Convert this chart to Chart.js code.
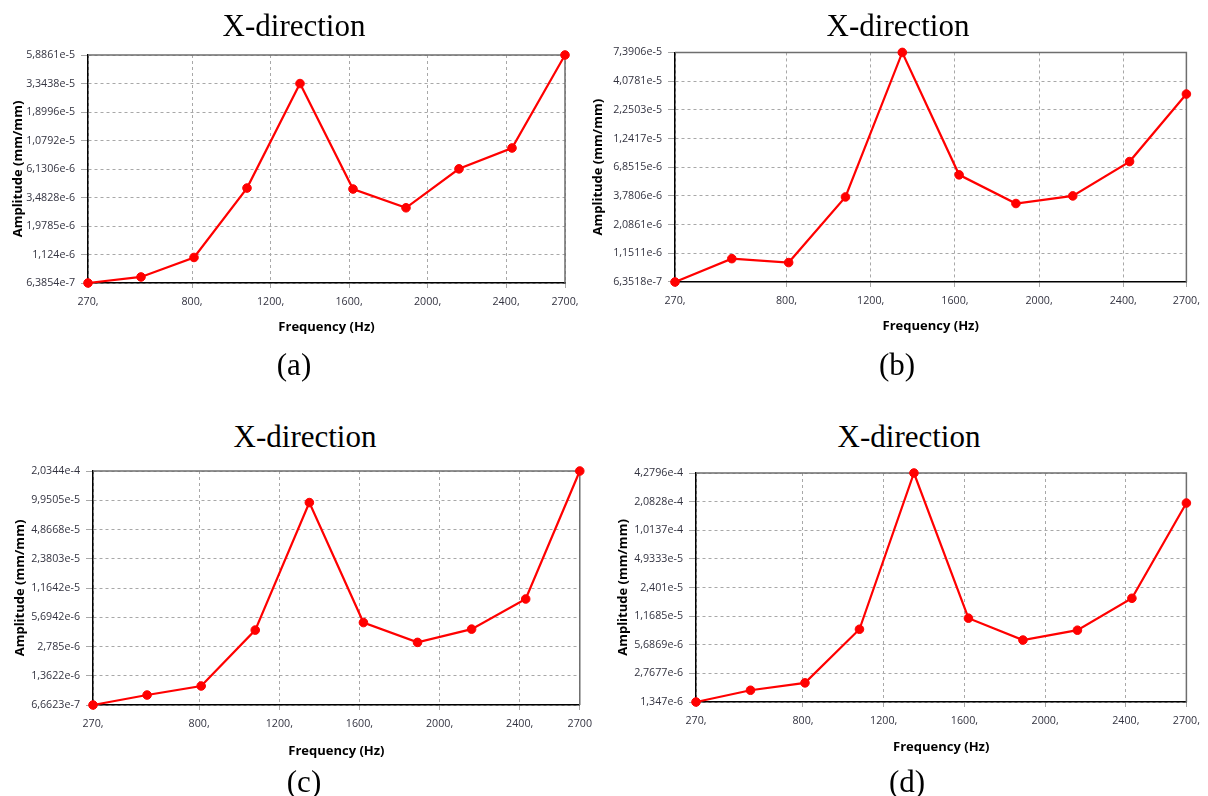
<!DOCTYPE html>
<html>
<head>
<meta charset="utf-8">
<script src="https://cdn.jsdelivr.net/npm/chart.js@4.4.0/dist/chart.umd.min.js"></script>
<style>
    body { margin: 0; background: #fff; }
    #page { position: relative; width: 1208px; height: 796px; overflow: hidden; background: #fff; }
    canvas { position: absolute; }
    .serif { position: absolute; transform: translate(-50%, -50%); font-family: "Liberation Serif", "Times New Roman", serif; font-size: 31px; color: #000; white-space: nowrap; }
</style>
</head>
<body>
<div id="page">
    <canvas id="chartA" width="600" height="310" style="left:0px;top:40px"></canvas>
    <canvas id="chartB" width="628" height="310" style="left:580px;top:40px"></canvas>
    <canvas id="chartC" width="600" height="310" style="left:0px;top:455px"></canvas>
    <canvas id="chartD" width="618" height="310" style="left:590px;top:455px"></canvas>

    <div class="serif" style="left:294px;top:26px">X-direction</div>
    <div class="serif" style="left:898px;top:26px">X-direction</div>
    <div class="serif" style="left:305px;top:437px">X-direction</div>
    <div class="serif" style="left:909px;top:437px">X-direction</div>

    <div class="serif" style="left:294px;top:365px">(a)</div>
    <div class="serif" style="left:897px;top:365px">(b)</div>
    <div class="serif" style="left:304px;top:782px">(c)</div>
    <div class="serif" style="left:907px;top:782px">(d)</div>
</div>
<script>
// frequencies (Hz) of the points, same for all four plots
const freqs = [270, 540, 810, 1080, 1350, 1620, 1890, 2160, 2430, 2700];
const xTickValues = [270, 800, 1200, 1600, 2000, 2400, 2700];
const xLabels = ["270,", "800,", "1200,", "1600,", "2000,", "2400,", "2700,"];
const xLabelsC = ["270,", "800,", "1200,", "1600,", "2000,", "2400,", "2700"];

// amplitudes (mm/mm)
const ampA = [6.3854e-7, 7.2e-7, 1.06e-6, 4.2e-6, 3.34e-5, 4.12e-6, 2.84e-6, 6.15e-6, 9.3e-6, 5.8861e-5];
const ampB = [6.3518e-7, 1.03e-6, 9.5e-7, 3.7e-6, 7.3906e-5, 5.85e-6, 3.23e-6, 3.78e-6, 7.7e-6, 3.12e-5];
const ampC = [6.6623e-7, 8.5e-7, 1.06e-6, 4.16e-6, 9.4e-5, 5.0e-6, 3.08e-6, 4.26e-6, 8.9e-6, 2.0344e-4];
const ampD = [1.347e-6, 1.81e-6, 2.18e-6, 8.4e-6, 4.2796e-4, 1.11e-5, 6.4e-6, 8.2e-6, 1.83e-5, 2.01e-4];

// y tick labels as printed on the plots
const yLabelsA = ["6,3854e-7", "1,124e-6", "1,9785e-6", "3,4828e-6", "6,1306e-6", "1,0792e-5", "1,8996e-5", "3,3438e-5", "5,8861e-5"];
const yLabelsB = ["6,3518e-7", "1,1511e-6", "2,0861e-6", "3,7806e-6", "6,8515e-6", "1,2417e-5", "2,2503e-5", "4,0781e-5", "7,3906e-5"];
const yLabelsC = ["6,6623e-7", "1,3622e-6", "2,785e-6", "5,6942e-6", "1,1642e-5", "2,3803e-5", "4,8668e-5", "9,9505e-5", "2,0344e-4"];
const yLabelsD = ["1,347e-6", "2,7677e-6", "5,6869e-6", "1,1685e-5", "2,401e-5", "4,9333e-5", "1,0137e-4", "2,0828e-4", "4,2796e-4"];

function toNum(s) {
    return parseFloat(s.replace(',', '.'));
}

// gray top/right frame of the plot area
const framePlugin = {
    id: 'frame',
    beforeDatasetsDraw(chart) {
        let a = chart.chartArea;
        let ctx = chart.ctx;
        ctx.save();
        ctx.strokeStyle = '#6e6e6e';
        ctx.lineWidth = 1.5;
        ctx.beginPath();
        ctx.moveTo(a.left, a.top);
        ctx.lineTo(a.right, a.top);
        ctx.lineTo(a.right, a.bottom);
        ctx.stroke();
        ctx.restore();
    }
};

function makeChart(id, amps, yLabels, xLabs, box) {
    let canvas = document.getElementById(id);
    let W = canvas.width, H = canvas.height;
    let yVals = yLabels.map(toNum);
    let points = freqs.map((f, i) => ({ x: f, y: amps[i] }));
    let tickFont = { family: '"Open Sans", "Liberation Sans", sans-serif', size: 10.7 };
    let titleFont = { family: '"Open Sans", "Liberation Sans", sans-serif', size: 13, weight: 'bold', lineHeight: 1.2 };
    let half = 13 * 1.2 / 2;

    new Chart(canvas, {
        type: 'line',
        data: {
            datasets: [{
                data: points,
                borderColor: '#ff0000',
                backgroundColor: '#ff0000',
                borderWidth: 2.2,
                pointRadius: 4.3,
                pointHoverRadius: 4.3,
                pointBorderWidth: 1,
                tension: 0,
                clip: false
            }]
        },
        options: {
            responsive: false,
            animation: false,
            layout: { padding: { left: 0, top: box.top, right: W - box.right, bottom: 0 } },
            plugins: { legend: { display: false }, tooltip: { enabled: false } },
            scales: {
                x: {
                    type: 'linear',
                    min: freqs[0],
                    max: freqs[freqs.length - 1],
                    afterBuildTicks: (s) => { s.ticks = xTickValues.map(v => ({ value: v })); },
                    afterFit: (s) => { s.height = H - box.bottom; },
                    ticks: {
                        autoSkip: false,
                        maxRotation: 0,
                        padding: 8,
                        color: '#333340',
                        font: tickFont,
                        callback: (v, i) => xLabs[i]
                    },
                    grid: { color: '#a8a8a8', tickColor: '#a8a8a8', tickLength: 5, lineWidth: 1 },
                    border: { color: '#000', width: 1.5, dash: [3, 3] },
                    title: {
                        display: true,
                        text: 'Frequency (Hz)',
                        color: '#000',
                        font: titleFont,
                        padding: { top: 0, bottom: H - box.xTitleY - half }
                    }
                },
                y: {
                    type: 'logarithmic',
                    min: yVals[0],
                    max: yVals[yVals.length - 1],
                    afterBuildTicks: (s) => { s.ticks = yVals.map(v => ({ value: v })); },
                    afterFit: (s) => { s.width = box.left; },
                    ticks: {
                        autoSkip: false,
                        padding: 6,
                        color: '#333340',
                        font: tickFont,
                        callback: (v, i) => yLabels[i]
                    },
                    grid: { color: '#a8a8a8', tickColor: '#a8a8a8', tickLength: 7, lineWidth: 1 },
                    border: { color: '#000', width: 1.5, dash: [3, 3] },
                    title: {
                        display: true,
                        text: 'Amplitude (mm/mm)',
                        color: '#000',
                        font: titleFont,
                        padding: { top: box.yTitleX - half, bottom: 0 }
                    }
                }
            }
        },
        plugins: [framePlugin]
    });
}

makeChart('chartA', ampA, yLabelsA, xLabels, { left: 88, top: 15, right: 565, bottom: 243, yTitleX: 18.5, xTitleY: 287 });
makeChart('chartB', ampB, yLabelsB, xLabels, { left: 95, top: 12, right: 611, bottom: 242, yTitleX: 18.5, xTitleY: 286 });
makeChart('chartC', ampC, yLabelsC, xLabelsC, { left: 93, top: 16, right: 588, bottom: 250, yTitleX: 20, xTitleY: 296.7 });
makeChart('chartD', ampD, yLabelsD, xLabels, { left: 106, top: 18, right: 603, bottom: 247, yTitleX: 33, xTitleY: 292 });
</script>
</body>
</html>
